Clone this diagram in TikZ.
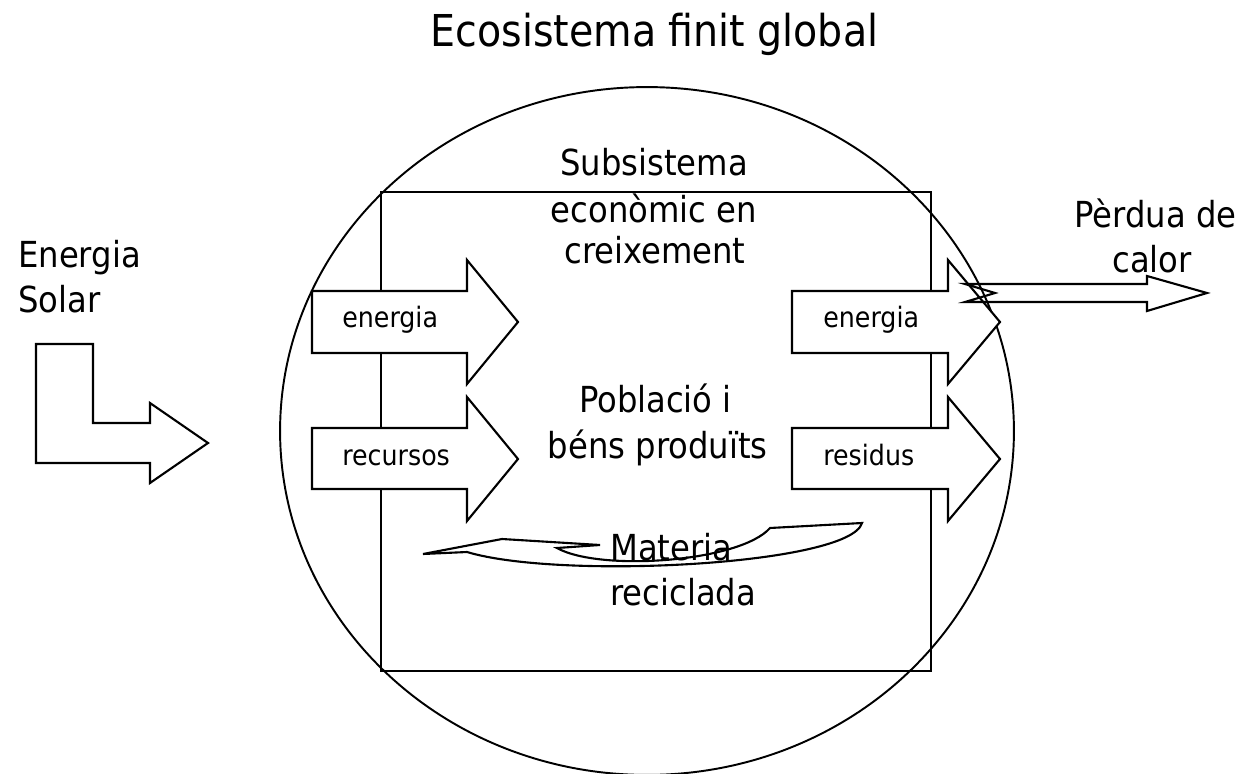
\documentclass[tikz,border=0pt]{standalone}
\usepackage{fontspec}
\setmainfont{DejaVu Sans Condensed}
\usetikzlibrary{shapes.geometric}
\begin{document}
\begin{tikzpicture}[x=0.02cm,y=-0.02cm,
  shp/.style={draw=black,line width=1.2pt,line join=miter,fill=white},
  big/.style={font=\fontsize{25}{30}\selectfont,anchor=base,inner sep=0pt},
  mid/.style={font=\fontsize{20.4}{25}\selectfont,anchor=base,inner sep=0pt},
  sml/.style={font=\fontsize{16}{19}\selectfont,anchor=base west,inner sep=0pt}]
\useasboundingbox (0,0) rectangle (1245,774);
% ecosystem ellipse
\node[draw,line width=1.1pt,ellipse,minimum width=14.68cm,minimum height=13.76cm,inner sep=0pt] (eco) at (647,431) {};
% subsystem rectangle
\node[draw,line width=1.1pt,rectangle,minimum width=11cm,minimum height=9.58cm,inner sep=0pt] (sub) at (656,431.5) {};
% title
\node[big] (title) at (654.5,47) {Ecosistema finit global};
\node[mid] (subt1) at (654,175) {Subsistema};
\node[mid] (subt2) at (654,222) {econòmic en};
\node[mid] (subt3) at (655,263) {creixement};
\node[mid] (pob1) at (655.5,412) {Població i};
\node[mid,anchor=base east] (pob2) at (768,458) {béns produïts};
% left arrows
\draw[shp] (312,291) -- (467,291) -- (467,260) -- (518,322) -- (467,384) -- (467,353) -- (312,353) -- cycle;
\draw[shp] (312,428) -- (467,428) -- (467,397) -- (518,459) -- (467,521) -- (467,489) -- (312,489) -- cycle;
\node[sml] (lin1) at (342,327) {energia};
\node[sml] (lin2) at (342,465) {recursos};
% right arrows
\draw[shp] (792,291) -- (948,291) -- (948,260) -- (1000,322) -- (948,384) -- (948,353) -- (792,353) -- cycle;
\draw[shp] (792,428) -- (948,428) -- (948,397) -- (1000,459) -- (948,521) -- (948,489) -- (792,489) -- cycle;
\node[sml] (rout1) at (823,327) {energia};
\node[sml] (rout2) at (823,465) {residus};
% heat loss arrow
\draw[shp,fill=none] (965,284) -- (1147,284) -- (1147,276) -- (1207,293) -- (1147,311) -- (1147,302) -- (965,302) -- (995,293) -- cycle;
\node[mid,anchor=base east] (heat1) at (1237,227) {Pèrdua de};
\node[mid] (heat2) at (1152,272) {calor};
% solar arrow
\draw[shp] (36,344) -- (93,344) -- (93,423) -- (150,423) -- (150,403) -- (208,443) -- (150,483) -- (150,463) -- (36,463) -- cycle;
\node[mid,anchor=base west] (sol1) at (18,267) {Energia};
\node[mid,anchor=base west] (sol2) at (18,312) {Solar};
% recycled material curved arrow
\draw[shp,fill=none] (423,554) -- (502,539) -- (600,545) -- (557,548)
  .. controls (600,572) and (740,562) .. (770,528) -- (862,523)
  .. controls (850,565) and (560,580) .. (467,552) -- cycle;
\node[mid,anchor=base west] (mat1) at (610,560) {Materia};
\node[mid,anchor=base west] (mat2) at (610,605) {reciclada};
\end{tikzpicture}
\end{document}
